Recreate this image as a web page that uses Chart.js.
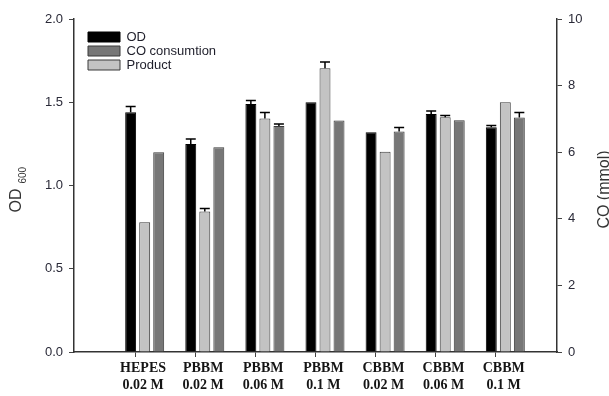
<!DOCTYPE html>
<html>
<head>
<meta charset="utf-8">
<script src="https://cdn.jsdelivr.net/npm/chart.js@4"></script>
<style>
  html, body { margin: 0; padding: 0; background: #ffffff; }
  #wrap { width: 609px; height: 396px; position: relative; }
</style>
</head>
<body>
<div id="wrap"><canvas id="c" width="609" height="396"></canvas></div>
<script>
// ---- data ----
const categories = [
  ['HEPES', '0.02 M'],
  ['PBBM', '0.02 M'],
  ['PBBM', '0.06 M'],
  ['PBBM', '0.1 M'],
  ['CBBM', '0.02 M'],
  ['CBBM', '0.06 M'],
  ['CBBM', '0.1 M']
];
const od = [1.44, 1.25, 1.49, 1.50, 1.32, 1.43, 1.35];          // OD600 (left axis)
const odErr = [0.035, 0.03, 0.02, 0, 0, 0.018, 0.01];
const product = [3.90, 4.22, 7.01, 8.52, 6.01, 7.05, 7.50];     // mmol (right axis)
const productErr = [0, 0.09, 0.18, 0.19, 0, 0.05, 0];
const coConsumption = [6.00, 6.15, 6.79, 6.95, 6.62, 6.96, 7.04]; // mmol (right axis)
const coErr = [0, 0, 0.06, 0, 0.12, 0, 0.15];
const leftTicks = [0, 0.5, 1.0, 1.5, 2.0];
const rightTicks = [0, 2, 4, 6, 8, 10];
const legendOrder = ['OD', 'CO consumtion', 'Product'];

const positions = categories.map((c, i) => i);

const errorBars = {
  id: 'errorBars',
  afterDatasetsDraw(chart) {
    const ctx = chart.ctx;
    ctx.save();
    ctx.strokeStyle = '#000';
    ctx.lineWidth = 1.5;
    chart.data.datasets.forEach((ds, di) => {
      const meta = chart.getDatasetMeta(di);
      const scale = chart.scales[ds.yAxisID];
      meta.data.forEach((bar, i) => {
        const e = ds.errors[i];
        if (!e) return;
        const yTop = scale.getPixelForValue(ds.data[i] + e);
        ctx.beginPath();
        ctx.moveTo(bar.x, bar.y);
        ctx.lineTo(bar.x, yTop);
        ctx.moveTo(bar.x - 5, yTop);
        ctx.lineTo(bar.x + 5, yTop);
        ctx.stroke();
      });
    });
    ctx.restore();
  }
};

const placeLegend = {
  id: 'placeLegend',
  beforeDraw(chart) {
    const lg = chart.legend;
    if (!lg) return;
    lg.left = chart.chartArea.left + 13;
    lg.top = chart.chartArea.top + 10.5;
  }
};

const axisTitles = {
  id: 'axisTitles',
  afterDraw(chart) {
    const ctx = chart.ctx;
    const yl = chart.scales.y;
    const mid = (yl.top + yl.bottom) / 2;
    ctx.save();
    ctx.fillStyle = '#333';
    ctx.textBaseline = 'alphabetic';
    ctx.textAlign = 'left';
    // left title "OD 600" (subscript)
    ctx.save();
    ctx.translate(21, mid + 27);
    ctx.rotate(-Math.PI / 2);
    ctx.font = '16px "Liberation Sans", Arial, sans-serif';
    ctx.fillText('OD', 0, 0);
    const w = ctx.measureText('OD').width;
    ctx.font = '10px "Liberation Sans", Arial, sans-serif';
    ctx.fillText('600', w + 5, 5);
    ctx.restore();
    // right title
    ctx.save();
    ctx.translate(608.5, mid + 4);
    ctx.rotate(-Math.PI / 2);
    ctx.textAlign = 'center';
    ctx.font = '16px "Liberation Sans", Arial, sans-serif';
    ctx.fillText('CO (mmol)', 0, 0);
    ctx.restore();
    ctx.restore();
  }
};

const tickFont = { family: '"Liberation Sans", Arial, sans-serif', size: 13 };

new Chart(document.getElementById('c'), {
  type: 'bar',
  data: {
    labels: positions,
    datasets: [
      { label: 'OD', data: od, errors: odErr, yAxisID: 'y',
        backgroundColor: '#000000', borderColor: '#000000', borderWidth: 1 },
      { label: 'Product', data: product, errors: productErr, yAxisID: 'y1',
        backgroundColor: '#c3c3c3', borderColor: '#3a3a3a', borderWidth: 1 },
      { label: 'CO consumtion', data: coConsumption, errors: coErr, yAxisID: 'y1',
        backgroundColor: '#777777', borderColor: '#3a3a3a', borderWidth: 1 }
    ]
  },
  options: {
    responsive: false,
    animation: false,
    devicePixelRatio: 1,
    layout: { padding: { top: 19, left: 0, right: 0, bottom: 0 } },
    datasets: { bar: { categoryPercentage: 0.7, barPercentage: 0.78 } },
    plugins: {
      tooltip: { enabled: false },
      legend: {
        position: 'chartArea',
        align: 'start',
        labels: {
          boxWidth: 32, boxHeight: 10, padding: 1,
          color: '#1e1e2a',
          font: { family: '"Liberation Sans", Arial, sans-serif', size: 13 },
          sort: (a, b) => legendOrder.indexOf(a.text) - legendOrder.indexOf(b.text)
        }
      }
    },
    scales: {
      x: {
        type: 'linear',
        offset: false,
        min: -1.176,
        max: 6.86,
        afterBuildTicks: (s) => { s.ticks = positions.map(p => ({ value: p - 0.16 })); },
        afterFit: (s) => { s.height = 44; },
        grid: { display: true, drawOnChartArea: false, drawTicks: true, tickLength: 5, color: '#444', offset: false },
        border: { display: true, color: '#333', width: 1.5 },
        ticks: {
          autoSkip: false, maxRotation: 0, padding: 3, labelOffset: 8,
          color: '#151515',
          font: { family: '"Liberation Serif", "Times New Roman", serif', size: 14, weight: 'bold', lineHeight: 1.2 },
          callback: (v, i) => categories[i]
        }
      },
      y: {
        position: 'left',
        min: 0, max: 2,
        afterBuildTicks: (s) => { s.ticks = leftTicks.map(v => ({ value: v })); },
        afterFit: (s) => { s.width = 74; },
        grid: { display: true, drawOnChartArea: false, drawTicks: true, tickLength: 5, color: '#444' },
        border: { display: true, color: '#333', width: 1.5 },
        ticks: { padding: 6, color: '#2a2a38', font: tickFont, callback: (v) => v.toFixed(1) }
      },
      y1: {
        position: 'right',
        min: 0, max: 10,
        afterBuildTicks: (s) => { s.ticks = rightTicks.map(v => ({ value: v })); },
        afterFit: (s) => { s.width = 52; },
        grid: { display: true, drawOnChartArea: false, drawTicks: true, tickLength: 5, color: '#444' },
        border: { display: true, color: '#333', width: 1.5 },
        ticks: { padding: 6, color: '#2a2a38', font: tickFont, callback: (v) => String(v) }
      }
    }
  },
  plugins: [errorBars, placeLegend, axisTitles]
});
</script>
</body>
</html>
